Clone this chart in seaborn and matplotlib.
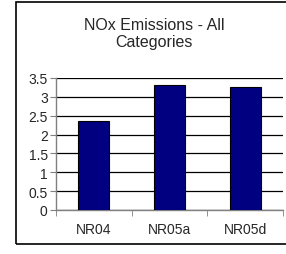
import matplotlib
matplotlib.use("Agg")
import matplotlib.pyplot as plt
from matplotlib.patches import Rectangle
import seaborn as sns
import pandas as pd

categories = ["NR04", "NR05a", "NR05d"]
values = [2.36, 3.31, 3.27]
title = "NOx Emissions - All\nCategories"

sns.set_style("white")
plt.rcParams['font.family'] = ['Liberation Sans', 'DejaVu Sans']

df = pd.DataFrame({"cat": categories, "val": values})

fig = plt.figure(figsize=(2.86, 2.55), dpi=100)
fig.patches.append(Rectangle((16 / 286, 1 - 245 / 255), 1.0, 242 / 255,
                             transform=fig.transFigure, fill=False,
                             edgecolor="black", linewidth=1.2))
ax = fig.add_axes([56 / 286, 1 - 211 / 255, 227 / 286, 132 / 255])

sns.barplot(data=df, x="cat", y="val", color="#000080", width=0.41,
            edgecolor="black", linewidth=0.8, saturation=1, ax=ax, zorder=3)

ax.set_ylim(0, 3.5)
ax.set_xlim(-0.5, 2.5)
ax.set_yticks([0, 0.5, 1, 1.5, 2, 2.5, 3, 3.5])
ax.set_yticklabels(["0", "0.5", "1", "1.5", "2", "2.5", "3", "3.5"])
ax.yaxis.grid(True, color="black", linewidth=0.9, zorder=0)
ax.set_axisbelow(True)
ax.set_xlabel("")
ax.set_ylabel("")

ax.set_xticks([-0.5, 0.5, 1.5, 2.5], minor=True)
ax.tick_params(axis="x", which="major", length=0, pad=9, labelsize=10)
ax.tick_params(axis="x", which="minor", length=4, color="#808080", direction="out", bottom=True)
ax.tick_params(axis="y", length=4, color="#808080", direction="out", left=True,
               labelsize=10, pad=2)

for s in ["top", "right"]:
    ax.spines[s].set_visible(False)
for s in ["left", "bottom"]:
    ax.spines[s].set_color("#808080")
    ax.spines[s].set_linewidth(1)

fig.text(154 / 286, 1 - 34 / 255, title, ha="center", va="center",
         fontsize=11.5, linespacing=1.2)

fig.savefig("out.png", dpi=100)
